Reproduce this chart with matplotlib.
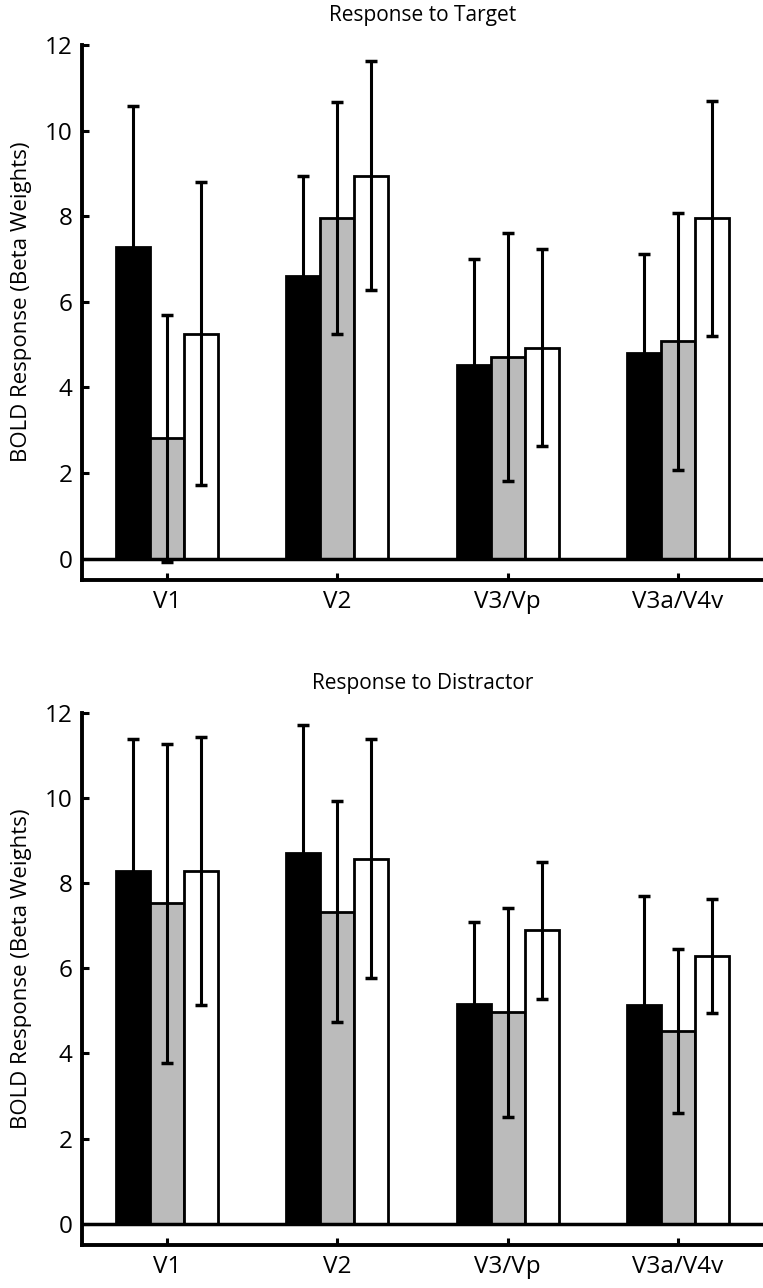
import matplotlib.pyplot as plt
import numpy as np

plt.rcParams['font.family'] = ['Open Sans', 'DejaVu Sans']

regions = ['V1', 'V2', 'V3/Vp', 'V3a/V4v']

# Response to Target
target_black = [7.29, 6.61, 4.53, 4.80]
target_black_err = [3.28, 2.34, 2.46, 2.32]
target_gray = [2.81, 7.96, 4.72, 5.08]
target_gray_err = [2.88, 2.70, 2.90, 3.00]
target_white = [5.26, 8.95, 4.93, 7.95]
target_white_err = [3.54, 2.67, 2.30, 2.74]

# Response to Distractor
distr_black = [8.28, 8.71, 5.16, 5.15]
distr_black_err = [3.12, 3.01, 1.94, 2.54]
distr_gray = [7.53, 7.33, 4.97, 4.53]
distr_gray_err = [3.75, 2.60, 2.46, 1.92]
distr_white = [8.28, 8.58, 6.89, 6.29]
distr_white_err = [3.15, 2.80, 1.60, 1.34]

fig = plt.figure(figsize=(7.63, 12.88), dpi=100)
ax1 = fig.add_axes([0.1075, 0.5497, 0.8925, 0.4153])
ax2 = fig.add_axes([0.1075, 0.0334, 0.8925, 0.4130])

colors = ['black', '#bbbbbb', 'white']
width = 0.2
x = np.arange(1, len(regions) + 1)


def draw_panel(ax, series, errs, title):
    for i, (vals, err) in enumerate(zip(series, errs)):
        pos = x + (i - 1) * width
        ax.bar(pos, vals, width, color=colors[i], edgecolor='black',
               linewidth=2, zorder=2)
        ax.errorbar(pos, vals, yerr=err, fmt='none', ecolor='black',
                    elinewidth=2.2, capsize=4.5, capthick=2.5, zorder=3)
    ax.axhline(0, color='black', linewidth=2.5, zorder=4)
    ax.set_xlim(0.5, 4.5)
    ax.set_ylim(-0.5, 12)
    ax.set_yticks(range(0, 13, 2))
    ax.set_xticks(x)
    ax.set_xticklabels(regions)
    ax.spines['top'].set_visible(False)
    ax.spines['right'].set_visible(False)
    ax.spines['left'].set_linewidth(2.8)
    ax.spines['bottom'].set_linewidth(2.8)
    ax.tick_params(direction='in', length=5, width=2.2, labelsize=17.5, pad=7)
    ax.set_ylabel('BOLD Response (Beta Weights)', fontsize=16)
    ax.yaxis.set_label_coords(-0.074, 0.52)
    ax.set_title(title, fontsize=15, pad=17)


draw_panel(ax1, [target_black, target_gray, target_white],
           [target_black_err, target_gray_err, target_white_err],
           'Response to Target')
draw_panel(ax2, [distr_black, distr_gray, distr_white],
           [distr_black_err, distr_gray_err, distr_white_err],
           'Response to Distractor')

plt.savefig('out.png', dpi=100)
